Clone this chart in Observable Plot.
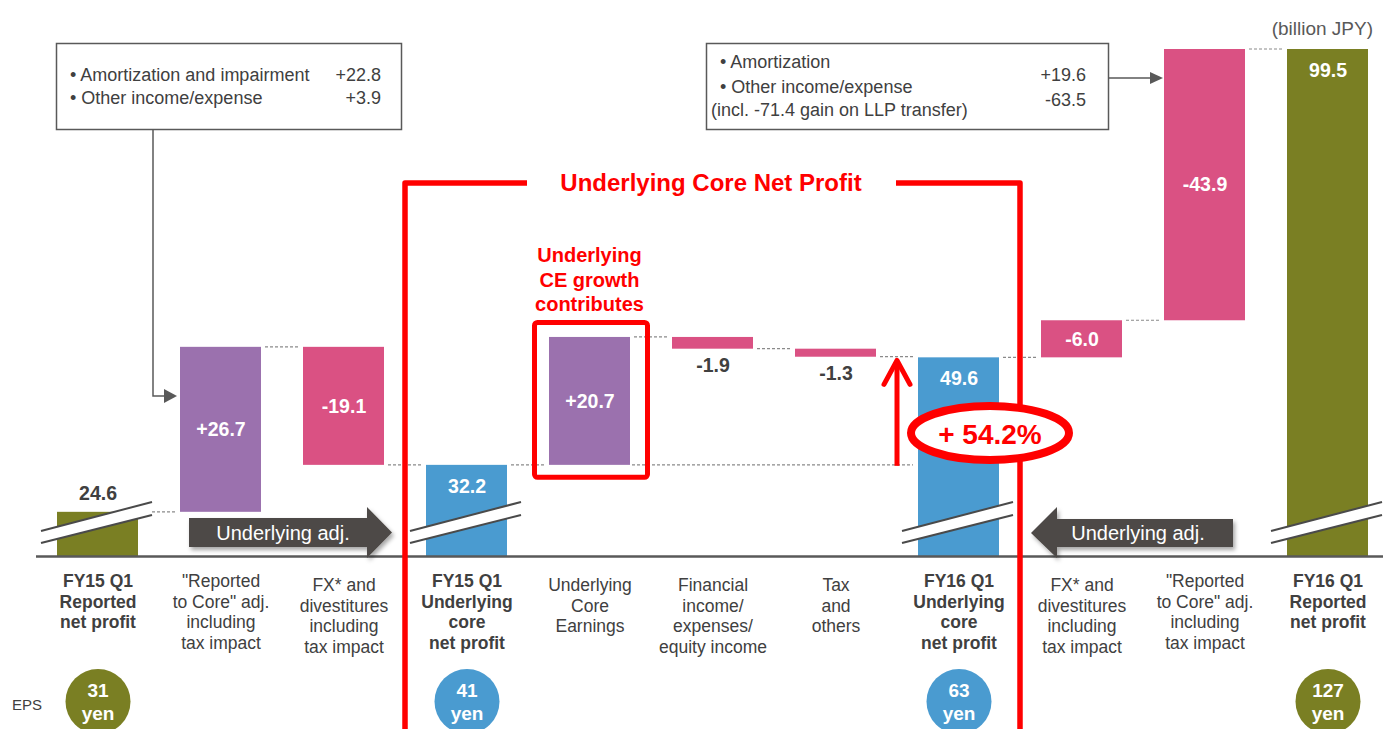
<!DOCTYPE html>
<html>
<head>
<meta charset="utf-8">
<script src="https://cdn.jsdelivr.net/npm/d3@7"></script>
<script src="https://cdn.jsdelivr.net/npm/@observablehq/plot@0.6"></script>
<style>
html, body { margin: 0; padding: 0; background: #fff; overflow: hidden; }
#chart { width: 1383px; height: 729px; overflow: hidden; position: relative; }
#chart svg { display: block; }
</style>
</head>
<body>
<div id="chart"></div>
<script>
const FONT = "Arial, 'Liberation Sans', Helvetica, sans-serif";

// ---------- data ----------
const categories = ["fy15rep", "r2cL", "fxL", "fy15und", "ce", "fin", "tax", "fy16und", "fxR", "r2cR", "fy16rep"];
const axisLabels = [
  "FY15 Q1\nReported\nnet profit",
  "\"Reported\nto Core\" adj.\nincluding\ntax impact",
  "FX* and\ndivestitures\nincluding\ntax impact",
  "FY15 Q1\nUnderlying\ncore\nnet profit",
  "Underlying\nCore\nEarnings",
  "Financial\nincome/\nexpenses/\nequity income",
  "Tax\nand\nothers",
  "FY16 Q1\nUnderlying\ncore\nnet profit",
  "FX* and\ndivestitures\nincluding\ntax impact",
  "\"Reported\nto Core\" adj.\nincluding\ntax impact",
  "FY16 Q1\nReported\nnet profit"
];
// reported / underlying = totals; adjust = step added left→right; reverse = step shown as Reported→Underlying adj.
const stepTypes = ["reported", "adjust", "adjust", "underlying", "adjust", "adjust", "adjust", "underlying", "reverse", "reverse", "reported"];
const values = [24.6, 26.7, -19.1, 32.2, 20.7, -1.9, -1.3, 49.6, -6.0, -43.9, 99.5];
const valueLabels = ["24.6", "+26.7", "-19.1", "32.2", "+20.7", "-1.9", "-1.3", "49.6", "-6.0", "-43.9", "99.5"];
const epsCategories = ["fy15rep", "fy15und", "fy16und", "fy16rep"];
const epsValues = [31, 41, 63, 127];
const leftNoteItems = ["• Amortization and impairment", "• Other income/expense"];
const leftNoteValues = ["+22.8", "+3.9"];
const rightNoteItems = ["• Amortization", "• Other income/expense", " (incl. -71.4 gain on LLP transfer)"];
const rightNoteValues = ["+19.6", "-63.5"];
const growthLabel = "+ 54.2%";
const unitLabel = "(billion JPY)";
const bracketTitle = "Underlying Core Net Profit";
const highlightNote = ["Underlying", "CE growth", "contributes"];
const adjLabel = "Underlying adj.";
const axisBreak = 17.45;   // value at which the broken axis starts
const axisTop = 99.5;

// ---------- colors ----------
const olive = "#7a7f23", blue = "#4a9bd0", purple = "#9b71ae", pink = "#da5183";
const darkText = "#404040", red = "#ff0000";

// ---------- derived table ----------
const isTotal = t => t === "reported" || t === "underlying";
let level = 0;
const rows = categories.map((cat, i) => {
  const type = stepTypes[i], v = values[i];
  let from, to;
  if (isTotal(type)) { from = axisBreak; to = v; }
  else if (type === "adjust") { from = level; to = level + v; }
  else { from = level; to = level - v; }
  level = isTotal(type) ? v : to;
  const lo = Math.min(from, to), hi = Math.max(from, to);
  const color = type === "reported" ? olive : type === "underlying" ? blue : (v > 0 ? purple : pink);
  let pos;
  if (isTotal(type)) pos = (hi - lo) > 10 ? "top" : "above";
  else pos = (hi - lo) < 3 ? "below" : "mid";
  return {cat, i, type, v, label: valueLabels[i], lo, hi, end: level, color, pos};
});
const axisRows = categories.map((cat, i) => ({
  cat, text: axisLabels[i], bold: isTotal(stepTypes[i]),
  high: isTotal(stepTypes[i]) || axisLabels[i].startsWith("\"")
}));
const epsRows = epsCategories.map((cat, i) => ({
  cat, v: epsValues[i],
  color: stepTypes[categories.indexOf(cat)] === "reported" ? olive : blue
}));

const labelFont = {fontWeight: "bold", fontSize: 19.5};
const axisFont = {fontSize: 17.5, lineHeight: 1.18, lineAnchor: "top", frameAnchor: "bottom", fill: darkText};

const plot = Plot.plot({
  width: 1383, height: 729,
  marginTop: 49, marginBottom: 173, marginLeft: 36, marginRight: 0,
  style: {fontFamily: FONT, background: "#fff", overflow: "visible"},
  x: {domain: categories, range: [36, 1389], paddingInner: 0.3415, paddingOuter: 0.17, axis: null},
  y: {domain: [axisBreak, axisTop], range: [556, 49], axis: null},
  color: {type: "identity"},
  marks: [
    Plot.barY(rows, {x: "cat", y1: "lo", y2: "hi", fill: "color"}),
    Plot.ruleY([axisBreak], {stroke: "#595959", strokeWidth: 2.5}),
    Plot.text(rows.filter(d => d.pos === "top"), {x: "cat", y: "hi", dy: 21, text: "label", fill: "white", ...labelFont}),
    Plot.text(rows.filter(d => d.pos === "mid"), {x: "cat", y: d => (d.lo + d.hi) / 2, text: "label", fill: "white", ...labelFont}),
    Plot.text(rows.filter(d => d.pos === "above"), {x: "cat", y: "hi", dy: -19, text: "label", fill: darkText, ...labelFont}),
    Plot.text(rows.filter(d => d.pos === "below"), {x: "cat", y: "lo", dy: 17, text: "label", fill: darkText, ...labelFont}),
    Plot.text(axisRows.filter(d => d.bold), {x: "cat", text: "text", dy: 16, fontWeight: "bold", ...axisFont}),
    Plot.text(axisRows.filter(d => !d.bold && d.high), {x: "cat", text: "text", dy: 16, ...axisFont}),
    Plot.text(axisRows.filter(d => !d.bold && !d.high), {x: "cat", text: "text", dy: 20, ...axisFont}),
    Plot.dot(epsRows, {x: "cat", frameAnchor: "bottom", dy: 145, r: 32.5, fill: "color"}),
    Plot.text(epsRows, {x: "cat", frameAnchor: "bottom", lineAnchor: "middle", dy: 145, text: d => `${d.v}\nyen`, lineHeight: 1.2, fill: "white", fontWeight: "bold", fontSize: 19})
  ]
});
document.getElementById("chart").appendChild(plot);

// ---------- annotations placed through the plot's scales ----------
const sxD = plot.scale("x"), syD = plot.scale("y");
const bandScale = d3.scaleBand().domain(sxD.domain).range(sxD.range)
  .paddingInner(sxD.paddingInner ?? 0.3415).paddingOuter(sxD.paddingOuter ?? 0.17).align(sxD.align ?? 0.5);
const X = c => (typeof sxD.apply === "function" ? sxD.apply(c) : bandScale(c));
const bw = sxD.bandwidth ?? bandScale.bandwidth();
const Xi = i => X(categories[i]);
const Y = v => (typeof syD.apply === "function" ? syD.apply(v) : d3.scaleLinear().domain(syD.domain).range(syD.range)(v));
const base = Y(axisBreak);

const svg = d3.select(plot);
const defs = svg.append("defs");
const f = defs.append("filter").attr("id", "shadow").attr("x", "-10%").attr("y", "-20%").attr("width", "130%").attr("height", "160%");
f.append("feDropShadow").attr("dx", 2).attr("dy", 3).attr("stdDeviation", 2).attr("flood-color", "#000").attr("flood-opacity", 0.35);

const g = svg.append("g").attr("font-family", FONT).attr("text-anchor", "start");

// dotted connectors between steps
const dotted = sel => sel.attr("stroke", "#8a8a8a").attr("stroke-width", 1.2).attr("stroke-dasharray", "3,2").attr("fill", "none");
for (let i = 0; i < rows.length - 1; i++) {
  const yy = Y(rows[i].end);
  g.append("line").attr("x1", Xi(i) + bw + 4).attr("x2", Xi(i + 1) - 4).attr("y1", yy).attr("y2", yy).call(dotted);
}
// FY15 underlying level carried to the growth arrow
g.append("line").attr("x1", Xi(4) + bw + 2).attr("x2", Xi(7) - 5)
  .attr("y1", Y(values[3])).attr("y2", Y(values[3])).call(dotted);

// axis-break slashes on total bars
rows.filter(d => isTotal(d.type)).forEach(d => {
  const x0 = X(d.cat);
  g.append("polygon").attr("points", [[x0 - 16, base - 25], [x0 + 95, base - 54], [x0 + 95, base - 41], [x0 - 16, base - 13]].map(p => p.join(",")).join(" "))
    .attr("fill", "white");
  g.append("line").attr("x1", x0 - 16).attr("y1", base - 25).attr("x2", x0 + 95).attr("y2", base - 54).attr("stroke", "#4a4a4a").attr("stroke-width", 2);
  g.append("line").attr("x1", x0 - 16).attr("y1", base - 13).attr("x2", x0 + 95).attr("y2", base - 41).attr("stroke", "#4a4a4a").attr("stroke-width", 2);
});

// "Underlying adj." arrows
const arrowFill = "#4d4946";
{
  const x0 = Xi(1) + 9, xb = Xi(3) - 59, tip = Xi(3) - 34;
  const t = base - 38, b = base - 9, ht = base - 49, hb = base + 2, mid = base - 23.5;
  g.append("path").attr("d", `M${x0},${t}L${xb},${t}L${xb},${ht}L${tip},${mid}L${xb},${hb}L${xb},${b}L${x0},${b}Z`)
    .attr("fill", arrowFill).attr("filter", "url(#shadow)");
  g.append("text").attr("x", 283).attr("y", mid).attr("dy", "0.35em").attr("text-anchor", "middle")
    .attr("fill", "white").attr("font-size", 20).text(adjLabel);
}
{
  const tip = Xi(8) - 10, xb = Xi(8) + 16, x1 = Xi(9) + 69;
  const t = base - 37, b = base - 9, ht = base - 49, hb = base + 2, mid = base - 23;
  g.append("path").attr("d", `M${x1},${t}L${xb},${t}L${xb},${ht}L${tip},${mid}L${xb},${hb}L${xb},${b}L${x1},${b}Z`)
    .attr("fill", arrowFill).attr("filter", "url(#shadow)");
  g.append("text").attr("x", 1138).attr("y", mid).attr("dy", "0.35em").attr("text-anchor", "middle")
    .attr("fill", "white").attr("font-size", 20).text(adjLabel);
}

// annotation boxes
const boxStroke = "#595959";
g.append("rect").attr("x", Xi(0) - 0.5).attr("y", 43.5).attr("width", 345).attr("height", 86)
  .attr("fill", "white").attr("stroke", boxStroke).attr("stroke-width", 1.5);
leftNoteItems.forEach((t, k) => {
  g.append("text").attr("x", 70).attr("y", 75 + 23 * k).attr("dy", "0.35em").attr("text-anchor", "start").attr("font-size", 18).attr("fill", darkText).text(t);
  g.append("text").attr("x", 381).attr("y", 75 + 23 * k).attr("dy", "0.35em").attr("font-size", 18).attr("fill", darkText).attr("text-anchor", "end").text(leftNoteValues[k]);
});
g.append("path").attr("d", `M153,129.5L153,396L166,396`).attr("fill", "none").attr("stroke", boxStroke).attr("stroke-width", 1.5);
g.append("path").attr("d", `M164,389L${Xi(1) - 3},396L164,403Z`).attr("fill", boxStroke);

g.append("rect").attr("x", 706.5).attr("y", 43.5).attr("width", 402).attr("height", 86)
  .attr("fill", "white").attr("stroke", boxStroke).attr("stroke-width", 1.5);
[62, 87, 110].forEach((yy, k) => {
  g.append("text").attr("x", k === 2 ? 706 : 720).attr("y", yy).attr("dy", "0.35em").attr("text-anchor", "start")
    .attr("font-size", 18).attr("fill", darkText)
    .style("white-space", "pre").text(rightNoteItems[k]);
});
[75, 100].forEach((yy, k) => {
  g.append("text").attr("x", 1086).attr("y", yy).attr("dy", "0.35em").attr("font-size", 18).attr("fill", darkText)
    .attr("text-anchor", "end").text(rightNoteValues[k]);
});
g.append("line").attr("x1", 1108.5).attr("x2", 1151).attr("y1", 78).attr("y2", 78).attr("stroke", boxStroke).attr("stroke-width", 1.5);
g.append("path").attr("d", `M1150,72L${Xi(9) - 1},78L1150,84Z`).attr("fill", boxStroke);

// unit label
g.append("text").attr("x", 1373).attr("y", 28).attr("dy", "0.35em").attr("text-anchor", "end")
  .attr("font-size", 19).attr("fill", "#595959").text(unitLabel);

// EPS label
g.append("text").attr("x", 12).attr("y", 705).attr("dy", "0.35em").attr("text-anchor", "start")
  .attr("font-size", 15).attr("fill", darkText).text("EPS");

// red bracket for underlying core net profit
const bl = (Xi(2) + bw + Xi(3)) / 2, br = (Xi(7) + bw + Xi(8)) / 2, bt = 183;
g.append("path").attr("d", `M${bl},740L${bl},${bt}L527,${bt}M896,${bt}L${br},${bt}L${br},740`)
  .attr("fill", "none").attr("stroke", red).attr("stroke-width", 5.5).attr("stroke-linejoin", "round");
g.append("text").attr("x", 711).attr("y", bt).attr("dy", "0.35em").attr("text-anchor", "middle")
  .attr("font-size", 24).attr("font-weight", "bold").attr("fill", red).text(bracketTitle);

// highlight around underlying CE
const ceX = Xi(4);
g.append("rect").attr("x", ceX - 14.5).attr("y", Y(rows[4].hi) - 14.5).attr("width", bw + 32).attr("height", Y(rows[4].lo) - Y(rows[4].hi) + 27)
  .attr("rx", 3).attr("fill", "none").attr("stroke", red).attr("stroke-width", 5);
highlightNote.forEach((t, k) => {
  g.append("text").attr("x", ceX + bw / 2).attr("y", 255 + 24.5 * k).attr("dy", "0.35em").attr("text-anchor", "middle")
    .attr("font-size", 20).attr("font-weight", "bold").attr("fill", red).text(t);
});

// growth arrow
const ax = Xi(7) - 21, ay0 = Y(values[3]) + 1, ay1 = Y(values[7]) + 3;
g.append("line").attr("x1", ax).attr("x2", ax).attr("y1", ay0).attr("y2", ay1 + 2).attr("stroke", red).attr("stroke-width", 5);
g.append("path").attr("d", `M${ax - 13},${ay1 + 24}L${ax},${ay1}L${ax + 13},${ay1 + 24}`)
  .attr("fill", "none").attr("stroke", red).attr("stroke-width", 5).attr("stroke-linecap", "round").attr("stroke-linejoin", "round");

// growth ellipse
const ex = Xi(7) + bw - 9, ey = 433;
g.append("ellipse").attr("cx", ex).attr("cy", ey).attr("rx", 79).attr("ry", 27)
  .attr("fill", "white").attr("stroke", red).attr("stroke-width", 8);
g.append("text").attr("x", ex).attr("y", ey + 1).attr("dy", "0.35em").attr("text-anchor", "middle")
  .attr("font-size", 28).attr("font-weight", "bold").attr("fill", red).text(growthLabel);
</script>
</body>
</html>
